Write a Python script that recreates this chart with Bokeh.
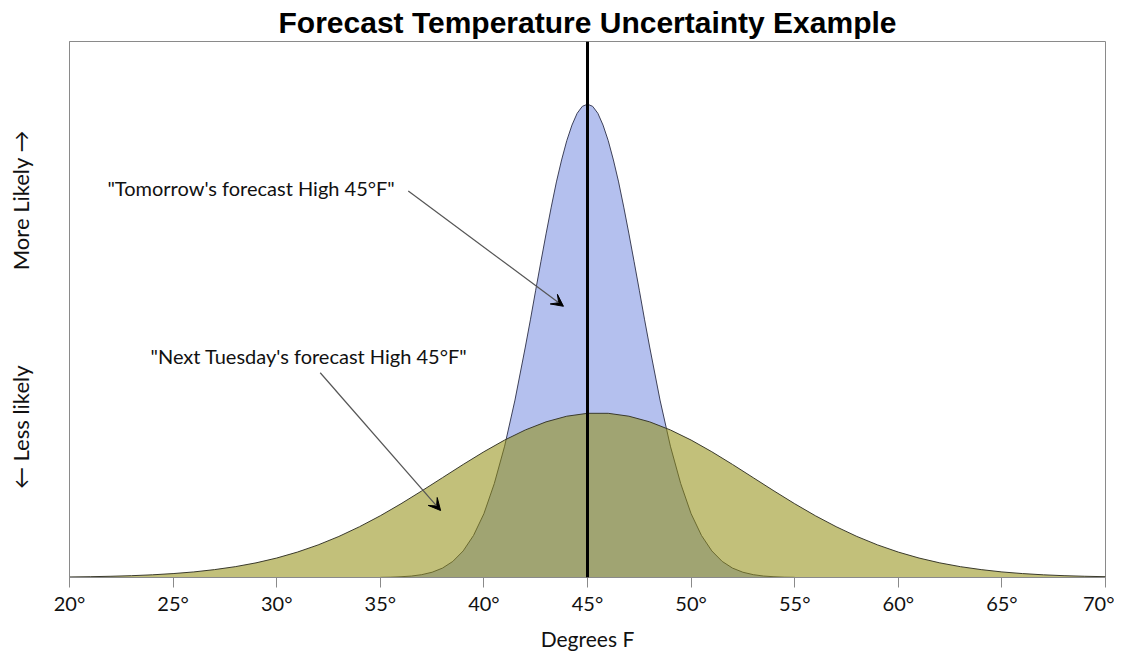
from bokeh.plotting import figure
from bokeh.models import Range1d, FixedTicker, Span, Label, Arrow, VeeHead
from bokeh.embed import file_html
from bokeh.resources import INLINE

# ---- data ----
olive_x = list(range(20, 71))
olive_y = [0.10, 0.15, 0.23, 0.34, 0.50, 0.73, 1.04, 1.47, 2.02, 2.73,
           3.63, 4.74, 6.08, 7.66, 9.48, 11.52, 13.76, 16.15, 18.62, 21.09,
           23.46, 25.64, 27.53, 29.04, 30.09, 30.63, 30.63, 30.09, 29.04, 27.53,
           25.64, 23.46, 21.09, 18.62, 16.15, 13.76, 11.52, 9.48, 7.66, 6.08,
           4.74, 3.63, 2.73, 2.02, 1.47, 1.04, 0.73, 0.50, 0.34, 0.23, 0.15]

blue_x = [35, 35.5, 36, 36.5, 37, 37.5, 38, 38.5, 39, 39.5, 40, 40.5, 41, 41.5,
          42, 42.25, 42.5, 42.75, 43, 43.25, 43.5, 43.75, 44, 44.25, 44.5, 44.75,
          45, 45.25, 45.5, 45.75, 46, 46.25, 46.5, 46.75, 47, 47.25, 47.5, 47.75, 48,
          48.5, 49, 49.5, 50, 50.5, 51, 51.5, 52, 52.5, 53, 53.5, 54, 54.5, 55]
blue_y = [0.03, 0.06, 0.14, 0.27, 0.53, 0.98, 1.75, 3.0, 4.96, 7.85, 11.9, 17.5, 24.5, 33.1,
          43.0, 48.2, 53.6, 58.9, 64.1, 69.1, 73.8, 77.9, 81.5, 84.4, 86.6, 87.9,
          88.3, 87.9, 86.6, 84.4, 81.5, 77.9, 73.8, 69.1, 64.1, 58.9, 53.6, 48.2, 43.0,
          33.1, 24.5, 17.5, 11.9, 7.85, 4.96, 3.0, 1.75, 0.98, 0.53, 0.27, 0.14, 0.06, 0.03]

forecast_high = 45
tick_values = [20, 25, 30, 35, 40, 45, 50, 55, 60, 65, 70]
tick_labels = ["20°", "25°", "30°", "35°", "40°", "45°", "50°", "55°", "60°", "65°", "70°"]

FONT = "Lato"

p = figure(width=1114, height=653, output_backend="svg", toolbar_location=None,
           x_range=Range1d(20, 70), y_range=Range1d(0, 100),
           min_border_left=69, min_border_right=9, min_border_top=40, min_border_bottom=76,
           background_fill_color="white", border_fill_color="white")

p.title.text = "Forecast Temperature Uncertainty Example"
p.title.align = "center"
p.title.text_font = "Liberation Sans"
p.title.text_font_style = "bold"
p.title.text_font_size = "30px"
p.title.text_color = "black"
p.title.standoff = 6

p.xgrid.visible = False
p.ygrid.visible = False
p.outline_line_color = "#8a8a8a"
p.outline_line_width = 1

# x axis
p.xaxis.ticker = FixedTicker(ticks=tick_values)
p.xaxis.major_label_overrides = {v: l for v, l in zip(tick_values, tick_labels)}
p.xaxis.minor_tick_line_color = None
p.xaxis.major_tick_out = 10
p.xaxis.major_tick_in = 0
p.xaxis.major_tick_line_color = "#8a8a8a"
p.xaxis.axis_line_color = "#8a8a8a"
p.xaxis.major_label_text_font = FONT
p.xaxis.major_label_text_font_size = "20px"
p.xaxis.major_label_text_color = "#111111"
p.xaxis.major_label_standoff = 3
p.xaxis.axis_label = "Degrees F"
p.xaxis.axis_label_text_font = FONT
p.xaxis.axis_label_text_font_size = "21px"
p.xaxis.axis_label_text_font_style = "normal"
p.xaxis.axis_label_text_color = "#111111"
p.xaxis.axis_label_standoff = 8

# y axis
p.yaxis.ticker = FixedTicker(ticks=[])
p.yaxis.major_tick_line_color = None
p.yaxis.minor_tick_line_color = None
p.yaxis.axis_line_color = "#8a8a8a"
gap = "\u00a0" * 17
p.yaxis.axis_label = "← Less likely" + gap + "More Likely →"
p.yaxis.axis_label_text_font = FONT
p.yaxis.axis_label_text_font_size = "22px"
p.yaxis.axis_label_text_font_style = "normal"
p.yaxis.axis_label_text_color = "#111111"
p.yaxis.axis_label_standoff = 36

# curves
p.varea(x=blue_x, y1=0, y2=blue_y, fill_color="#b4c0ee", fill_alpha=1.0)
p.line(x=blue_x, y=blue_y, line_color="#3d4058", line_width=1)
p.varea(x=olive_x, y1=0, y2=olive_y, fill_color="#908c0d", fill_alpha=0.55)
p.line(x=olive_x, y=olive_y, line_color="#3a3a2c", line_width=1)

p.add_layout(Span(location=forecast_high, dimension="height", line_color="black", line_width=3))

# annotations
p.add_layout(Label(x=21.83, y=72.6, text="\"Tomorrow's forecast High 45°F\"",
                   text_baseline="middle", text_font=FONT, text_font_size="20px",
                   text_color="#111111"))
p.add_layout(Label(x=23.91, y=41.3, text="\"Next Tuesday's forecast High 45°F\"",
                   text_baseline="middle", text_font=FONT, text_font_size="20px",
                   text_color="#111111"))
p.add_layout(Arrow(end=VeeHead(size=12, fill_color="black", line_color="black"),
                   x_start=36.35, y_start=72.1, x_end=43.84, y_end=50.6,
                   line_color="#555555", line_width=1.2))
p.add_layout(Arrow(end=VeeHead(size=12, fill_color="black", line_color="black"),
                   x_start=32.1, y_start=38.2, x_end=37.91, y_end=12.5,
                   line_color="#555555", line_width=1.2))

open("out.html", "w").write(file_html(p, INLINE))
